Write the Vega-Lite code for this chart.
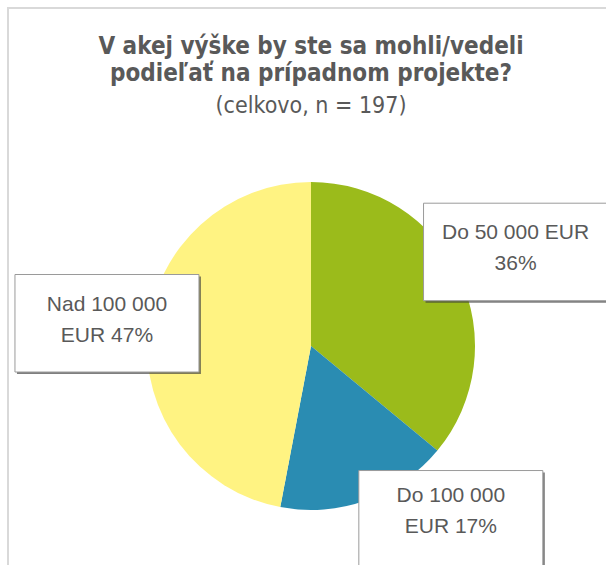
{
  "$schema": "https://vega.github.io/schema/vega-lite/v6.json",
  "width": 606,
  "height": 676,
  "autosize": {"type": "none"},
  "padding": {"left": 8, "top": 8, "right": 0, "bottom": 0},
  "background": "white",
  "config": {"view": {"stroke": "#d9d9d9", "strokeWidth": 2}},
  "title": {
    "text": ["V akej výške by ste sa mohli/vedeli", "podieľať na prípadnom projekte?"],
    "subtitle": "(celkovo, n = 197)",
    "anchor": "middle",
    "frame": "group",
    "offset": -110,
    "font": "DejaVu Sans Condensed, Liberation Sans",
    "fontSize": 24,
    "fontWeight": "bold",
    "color": "#595959",
    "lineHeight": 27,
    "subtitleFont": "DejaVu Sans Condensed, Liberation Sans",
    "subtitleFontSize": 23,
    "subtitleFontWeight": "normal",
    "subtitleColor": "#595959",
    "subtitlePadding": 9
  },
  "data": {
    "values": [
      {"i": 1, "category": "Do 50 000 EUR", "pct": 36, "label": "Do 50 000 EUR\n36%"},
      {"i": 2, "category": "Do 100 000 EUR", "pct": 17, "label": "Do 100 000\nEUR 17%"},
      {"i": 3, "category": "Nad 100 000 EUR", "pct": 47, "label": "Nad 100 000\nEUR 47%"}
    ]
  },
  "layer": [
    {
      "mark": {"type": "arc", "radius": 164},
      "encoding": {
        "theta": {"field": "pct", "type": "quantitative", "stack": true},
        "order": {"field": "i", "type": "quantitative"},
        "color": {
          "field": "category",
          "type": "nominal",
          "scale": {"domain": ["Do 50 000 EUR", "Do 100 000 EUR", "Nad 100 000 EUR"], "range": ["#9BBB1B", "#2A8CB2", "#FFF382"]},
          "legend": null
        }
      }
    },
    {
      "transform": [
        {"window": [{"op": "sum", "field": "pct", "as": "cum"}], "sort": [{"field": "i"}], "frame": [null, 0]},
        {"joinaggregate": [{"op": "sum", "field": "pct", "as": "total"}]},
        {"calculate": "(datum.cum - datum.pct / 2) / datum.total * 2 * PI", "as": "mid"},
        {"calculate": "sin(datum.mid)", "as": "lx"},
        {"calculate": "cos(datum.mid)", "as": "ly"}
      ],
      "encoding": {
        "x": {"field": "lx", "type": "quantitative", "scale": {"domain": [-1.4093, 1.4093], "nice": false, "zero": false}, "axis": null},
        "y": {"field": "ly", "type": "quantitative", "scale": {"domain": [-1.572, 1.572], "nice": false, "zero": false}, "axis": null}
      },
      "layer": [
        {
          "transform": [{"filter": "datum.i != 2"}],
          "layer": [
            {"mark": {"type": "point", "shape": "M-1,-0.53H1V0.53H-1Z", "size": 33856, "filled": true, "fill": "#3a3a3a", "opacity": 0.65, "xOffset": 12, "yOffset": -0.5}},
            {"mark": {"type": "point", "shape": "M-1,-0.53H1V0.53H-1Z", "size": 33856, "filled": true, "fill": "white", "opacity": 1, "stroke": "#9a9a9a", "strokeWidth": 1, "xOffset": 10, "yOffset": -2.5}},
            {"mark": {"type": "text", "font": "Liberation Sans", "fontSize": 21, "color": "#595959", "lineBreak": "\n", "lineHeight": 31, "align": "center", "baseline": "middle", "xOffset": 10, "yOffset": -21}, "encoding": {"text": {"field": "label", "type": "nominal"}}}
          ]
        },
        {
          "transform": [{"filter": "datum.i == 2"}],
          "layer": [
            {"mark": {"type": "point", "shape": "M-1,-0.53H1V0.53H-1Z", "size": 33856, "filled": true, "fill": "#3a3a3a", "opacity": 0.65, "xOffset": 69, "yOffset": -27}},
            {"mark": {"type": "point", "shape": "M-1,-0.53H1V0.53H-1Z", "size": 33856, "filled": true, "fill": "white", "opacity": 1, "stroke": "#9a9a9a", "strokeWidth": 1, "xOffset": 67, "yOffset": -29}},
            {"mark": {"type": "text", "font": "Liberation Sans", "fontSize": 21, "color": "#595959", "lineBreak": "\n", "lineHeight": 31, "align": "center", "baseline": "middle", "xOffset": 67, "yOffset": -52}, "encoding": {"text": {"field": "label", "type": "nominal"}}}
          ]
        }
      ]
    }
  ]
}
